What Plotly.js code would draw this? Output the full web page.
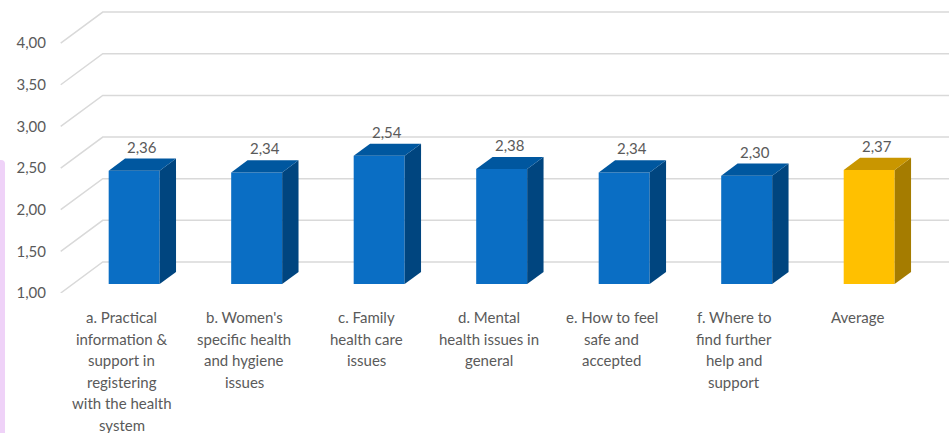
<!DOCTYPE html>
<html>
<head>
<meta charset="utf-8">
<script src="https://cdn.plot.ly/plotly-3.0.1.min.js"></script>
<style>
  html, body { margin: 0; padding: 0; background: #ffffff; }
  #chart { width: 949px; height: 433px; position: relative; }
  #band { position: absolute; left: 0; top: 160px; width: 5px; height: 273px; background: #efd2f8; border-top-right-radius: 4px; z-index: 5; }
</style>
</head>
<body>
<div id="band"></div>
<div id="chart"></div>
<script>
// ---- data ----
const categories = [
  "a. Practical<br>information &<br>support in<br>registering<br>with the health<br>system",
  "b. Women's<br>specific health<br>and hygiene<br>issues",
  "c. Family<br>health care<br>issues",
  "d. Mental<br>health issues in<br>general",
  "e. How to feel<br>safe and<br>accepted",
  "f. Where to<br>find further<br>help and<br>support",
  "Average"
];
const values = [2.36, 2.34, 2.54, 2.38, 2.34, 2.30, 2.37];
const tickValues = [1.0, 1.5, 2.0, 2.5, 3.0, 3.5, 4.0];

// ---- styling / geometry ----
const DX = 0.343, DY = 0.372;   // oblique depth offset of the back wall (data units)
const F0 = 0.29, F1 = 0.68;     // bar front/back depth fraction
const HW = 0.208;               // bar half width
const BASE = 1.0;
const blue = {front: '#0a6ec4', top: '#00579f', side: '#00457f'};
const gold = {front: '#ffc000', top: '#c99600', side: '#a57c00'};
const txt = '#5a5a5a';
const FONT = 'Lato, "Open Sans", sans-serif';

const idx = categories.map((_, i) => i);
const colorOf = i => (i === categories.length - 1 ? gold : blue);

const traces = [];
// front faces: bar trace
traces.push({
  type: 'bar',
  x: idx.map(i => i + F0 * DX),
  y: values.map(v => v - BASE),
  base: BASE + F0 * DY,
  width: 2 * HW,
  marker: {color: idx.map(i => colorOf(i).front), line: {width: 0}},
  hoverinfo: 'skip',
  showlegend: false
});
// top and side faces
idx.forEach(i => {
  const v = values[i];
  const c = colorOf(i);
  const xl = i - HW, xr = i + HW;
  traces.push({
    type: 'scatter', mode: 'lines', fill: 'toself', fillcolor: c.side,
    line: {width: 0, color: c.side}, hoverinfo: 'skip', showlegend: false,
    x: [xr + F0 * DX, xr + F0 * DX, xr + F1 * DX, xr + F1 * DX, xr + F0 * DX],
    y: [BASE + F0 * DY, v + F0 * DY, v + F1 * DY, BASE + F1 * DY, BASE + F0 * DY]
  });
  traces.push({
    type: 'scatter', mode: 'lines', fill: 'toself', fillcolor: c.top,
    line: {width: 0, color: c.top}, hoverinfo: 'skip', showlegend: false,
    x: [xl + F0 * DX, xr + F0 * DX, xr + F1 * DX, xl + F1 * DX, xl + F0 * DX],
    y: [v + F0 * DY, v + F0 * DY, v + F1 * DY, v + F1 * DY, v + F0 * DY]
  });
});

// gridlines (side diagonal + back wall)
const shapes = tickValues.map(t => ({
  type: 'path', xref: 'x', yref: 'y', layer: 'below',
  path: `M ${-0.5},${t} L ${-0.5 + DX},${t + DY} L ${7.5},${t + DY}`,
  line: {color: '#d9d9d9', width: 1.5}
}));

const annotations = [];
// value labels
idx.forEach(i => {
  annotations.push({
    xref: 'x', yref: 'y', x: i + 0.5 * (F0 + F1) * DX, y: values[i] + F1 * DY,
    text: values[i].toFixed(2).replace('.', ','), showarrow: false,
    yanchor: 'bottom', yshift: 1,
    font: {family: FONT, size: 15, color: txt}
  });
});
// category labels, one annotation per line
idx.forEach(i => {
  categories[i].split('<br>').forEach((line, k) => {
    annotations.push({
      xref: 'x', yref: 'paper', x: i, y: 0, text: line, showarrow: false,
      yanchor: 'middle', yshift: -(24 + k * 21.6),
      font: {family: FONT, size: 15, color: txt}
    });
  });
});

const layout = {
  width: 949, height: 433,
  margin: {l: 47, r: 0, t: 0, b: 140},
  paper_bgcolor: '#ffffff', plot_bgcolor: '#ffffff',
  separators: ',.',
  showlegend: false,
  xaxis: {range: [-0.612, 6.751], showgrid: false, zeroline: false, showline: false,
          showticklabels: false, ticks: '', fixedrange: true},
  yaxis: {range: [1, 4.517], tickvals: tickValues, tickformat: '.2f',
          showgrid: false, zeroline: false, showline: false, ticks: '',
          tickfont: {family: FONT, size: 15, color: txt}, fixedrange: true},
  shapes: shapes,
  annotations: annotations
};

Plotly.newPlot('chart', traces, layout, {displayModeBar: false, staticPlot: true});
</script>
</body>
</html>
